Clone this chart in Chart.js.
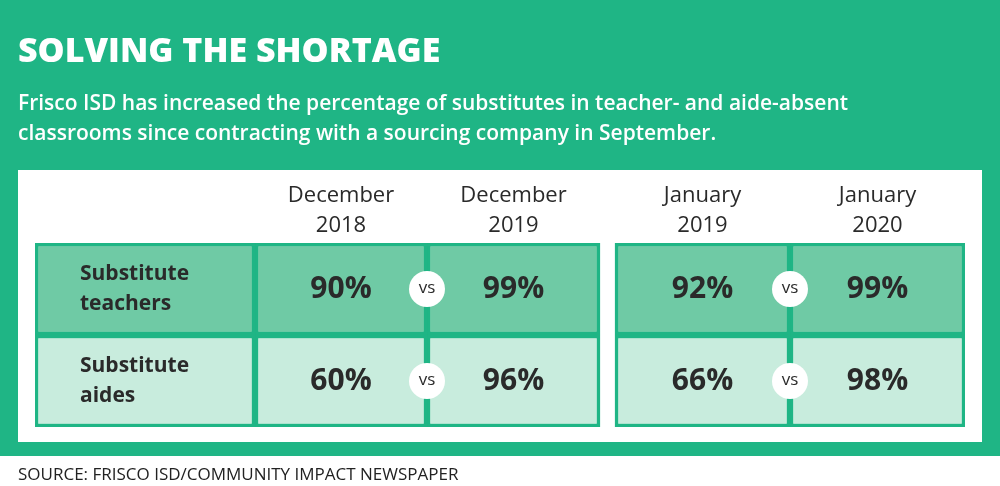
<!DOCTYPE html>
<html>
<head>
<meta charset="utf-8">
<script src="https://cdn.jsdelivr.net/npm/chart.js@4"></script>
<style>
  html, body { margin: 0; padding: 0; background: #1fb585; }
  #wrap { width: 1000px; height: 486px; }
</style>
</head>
<body>
<div id="wrap"><canvas id="tbl" width="1000" height="486"></canvas></div>
<script>
// data
const rowLabels = ["Substitute teachers", "Substitute aides"];
const colHeaders = [["December", "2018"], ["December", "2019"], ["January", "2019"], ["January", "2020"]];
const teachers = [90, 99, 92, 99];
const aides = [60, 96, 66, 98];

// layout (table units along x)
const cellEdges = [[0, 220], [220, 392], [392, 565], [580, 755], [755, 930]];
const GREEN = "#1fb585";
const rowColors = ["#6fcaa5", "#c8ecdd"];
const FONT = "'Open Sans', sans-serif";

const values = [teachers, aides];
const datasets = cellEdges.map((edge, c) => ({
    data: rowLabels.map(() => edge),
    backgroundColor: rowColors,
    borderColor: GREEN,
    borderWidth: 3.5,
    borderSkipped: false,
    grouped: false,
    barPercentage: 1,
    categoryPercentage: 1
}));

const tablePlugin = {
    id: "tablePlugin",
    beforeDraw(chart) {
        const ctx = chart.ctx;
        ctx.save();
        ctx.fillStyle = GREEN;
        ctx.fillRect(0, 0, 1000, 486);
        ctx.fillStyle = "#fff";
        ctx.fillRect(18, 170, 964, 272);
        ctx.fillRect(0, 456, 1000, 30);
        ctx.restore();
    },
    afterDraw(chart) {
        const ctx = chart.ctx;
        const x = chart.scales.x, y = chart.scales.y;
        ctx.save();
        ctx.textBaseline = "middle";

        // title + subtitle
        ctx.fillStyle = "#fff";
        ctx.textAlign = "left";
        ctx.font = `800 34px ${FONT}`;
        ctx.fillText("SOLVING THE SHORTAGE", 18, 52);
        ctx.font = `600 21px ${FONT}`;
        ctx.fillText("Frisco ISD has increased the percentage of substitutes in teacher- and aide-absent", 18, 104);
        ctx.fillText("classrooms since contracting with a sourcing company in September.", 18, 134);

        // column headers
        ctx.fillStyle = "#2a2a2a";
        ctx.textAlign = "center";
        ctx.font = `400 22px ${FONT}`;
        colHeaders.forEach((h, i) => {
            const e = cellEdges[i + 1];
            const cx = x.getPixelForValue((e[0] + e[1]) / 2);
            ctx.fillText(h[0], cx, 196);
            ctx.fillText(h[1], cx, 226);
        });

        // row labels
        ctx.textAlign = "left";
        ctx.font = `700 21px ${FONT}`;
        rowLabels.forEach((lab, r) => {
            const cy = y.getPixelForValue(r);
            const words = lab.split(" ");
            ctx.fillText(words[0], 80, cy - 15);
            ctx.fillText(words[1], 80, cy + 15);
        });

        // values
        ctx.textAlign = "center";
        ctx.font = `700 30px ${FONT}`;
        values.forEach((vals, r) => {
            const cy = y.getPixelForValue(r);
            vals.forEach((v, i) => {
                const e = cellEdges[i + 1];
                ctx.fillText(v + "%", x.getPixelForValue((e[0] + e[1]) / 2), cy);
            });
        });

        // vs circles
        [cellEdges[1][1], cellEdges[3][1]].forEach(edge => {
            const cx = x.getPixelForValue(edge);
            rowLabels.forEach((_, r) => {
                const cy = y.getPixelForValue(r);
                ctx.fillStyle = "#fff";
                ctx.beginPath();
                ctx.arc(cx, cy, 18, 0, Math.PI * 2);
                ctx.fill();
                ctx.fillStyle = "#2a2a2a";
                ctx.font = `400 17px ${FONT}`;
                ctx.fillText("vs", cx, cy - 1);
            });
        });

        // source
        ctx.textAlign = "left";
        ctx.fillStyle = "#222";
        ctx.font = `400 17px ${FONT}`;
        ctx.fillText("SOURCE: FRISCO ISD/COMMUNITY IMPACT NEWSPAPER", 18, 475);
        ctx.restore();
    }
};

new Chart(document.getElementById("tbl"), {
    type: "bar",
    data: { labels: rowLabels, datasets: datasets },
    options: {
        indexAxis: "y",
        responsive: false,
        animation: false,
        devicePixelRatio: 1,
        layout: { padding: { left: 35, right: 35, top: 243, bottom: 59 } },
        scales: {
            x: { type: "linear", min: 0, max: 930, display: false },
            y: { type: "category", display: false }
        },
        plugins: { legend: { display: false }, tooltip: { enabled: false } }
    },
    plugins: [tablePlugin]
});
</script>
</body>
</html>
